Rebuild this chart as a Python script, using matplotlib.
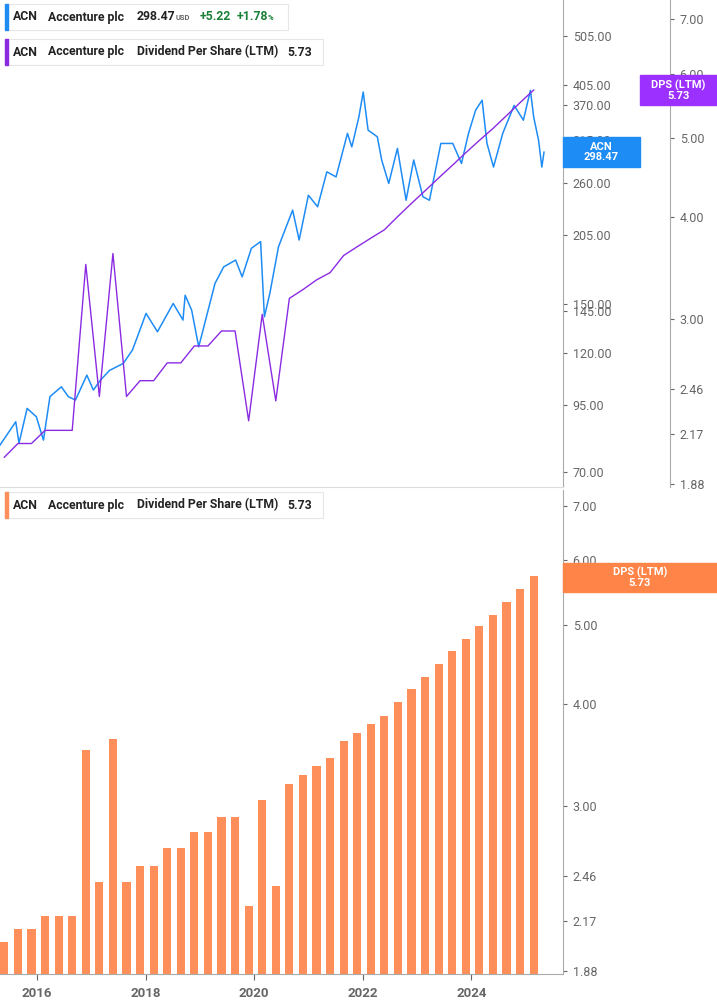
import numpy as np
import matplotlib.pyplot as plt
from matplotlib.ticker import FixedLocator, NullLocator, NullFormatter
from matplotlib.patches import Rectangle

plt.rcParams['font.family'] = 'Roboto'

# --- data ---
price_years = [2015.32, 2015.61, 2015.67, 2015.82, 2015.99, 2016.12, 2016.24, 2016.45, 2016.58, 2016.71,
               2016.92, 2017.04, 2017.17, 2017.34, 2017.59, 2017.76, 2018.01, 2018.22, 2018.51, 2018.69,
               2018.73, 2018.85, 2018.98, 2019.28, 2019.44, 2019.66, 2019.78, 2019.95, 2020.12, 2020.19,
               2020.29, 2020.45, 2020.71, 2020.83, 2021.00, 2021.17, 2021.34, 2021.51, 2021.72, 2021.80,
               2021.93, 2022.01, 2022.10, 2022.27, 2022.35, 2022.48, 2022.64, 2022.80, 2022.94, 2023.11,
               2023.23, 2023.44, 2023.66, 2023.82, 2023.95, 2024.08, 2024.20, 2024.29, 2024.41, 2024.58,
               2024.79, 2024.96, 2025.09, 2025.15, 2025.24, 2025.30, 2025.34]
price = [79.1, 87.9, 79.8, 93.4, 89.9, 80.9, 98.5, 103.0, 98.5, 97.0,
         108.6, 101.5, 106.2, 111.0, 114.5, 121.7, 143.7, 132.2, 150.3, 139.4,
         156.0, 145.8, 123.5, 164.6, 177.4, 183.0, 169.6, 193.0, 199.0, 141.5,
         157.3, 194.4, 229.5, 200.4, 245.5, 233.0, 273.0, 266.8, 325.0, 305.7,
         350.0, 392.0, 329.8, 320.0, 288.0, 259.0, 303.6, 240.0, 288.0, 243.8,
         240.0, 310.5, 310.5, 283.6, 325.0, 361.0, 377.7, 310.5, 279.0, 325.0,
         369.0, 345.0, 395.0, 350.0, 315.0, 279.0, 298.47]

dps_years = [2015.40 + 0.25 * i for i in range(40)]
dps = [2.03, 2.11, 2.11, 2.19, 2.19, 2.19, 3.50, 2.41, 3.61, 2.41,
       2.52, 2.52, 2.65, 2.65, 2.78, 2.78, 2.90, 2.90, 2.25, 3.04,
       2.38, 3.18, 3.26, 3.35, 3.42, 3.59, 3.68, 3.77, 3.86, 4.01,
       4.16, 4.31, 4.47, 4.63, 4.80, 4.97, 5.14, 5.33, 5.53, 5.73]

price_ticks = [505, 405, 370, 315, 260, 205, 150, 145, 120, 95, 70]
dps_ticks = [7.00, 6.00, 5.00, 4.00, 3.00, 2.46, 2.17, 1.88]
year_ticks = [2016, 2018, 2020, 2022, 2024]

BLUE = '#1e8cf5'
PURPLE = '#8a2be2'
ORANGE = '#ff8f5a'
GREY = '#666666'
W, H = 717, 1005
XL = (2015.32, 2025.69)

fig = plt.figure(figsize=(W / 100, H / 100), dpi=100)

def style_right(ax, ticks, lim, pos=None):
    ax.set_yscale('log')
    ax.set_ylim(*lim)
    ax.yaxis.set_major_locator(FixedLocator(ticks))
    ax.yaxis.set_minor_locator(NullLocator())
    ax.yaxis.set_minor_formatter(NullFormatter())
    ax.set_yticklabels([f'{t:.2f}' for t in ticks])
    ax.yaxis.tick_right()
    ax.yaxis.set_label_position('right')
    ax.tick_params(axis='y', colors=GREY, labelsize=9, length=3, width=0.8, pad=4,
                   left=False, labelleft=False, right=True, labelright=True)
    for s in ['top', 'left', 'bottom']:
        ax.spines[s].set_visible(False)
    ax.spines['right'].set_visible(True)
    ax.spines['right'].set_color('#aaaaaa')
    if pos is not None:
        ax.spines['right'].set_position(('outward', pos))

# top panel
ax1 = fig.add_axes([0, 1 - 487 / H, 563 / W, 487 / H])
ax1.plot(price_years, price, color=BLUE, lw=1.1, zorder=3)
ax1.set_xlim(*XL)
ax1.set_xticks([])

ax1b = ax1.twinx()
ax1b.plot(dps_years, dps, color=PURPLE, lw=1.0, zorder=2)
ax1b.set_xlim(*XL)
style_right(ax1b, dps_ticks, (1.866, 7.39), pos=77)

style_right(ax1, price_ticks, (65.4, 595))
ax1.spines['bottom'].set_visible(True)
ax1.spines['bottom'].set_color('#dddddd')

# bottom panel
ax2 = fig.add_axes([0, 1 - 974 / H, 563 / W, 484 / H])
ax2.bar(dps_years, dps, width=0.15, color=ORANGE, bottom=0.01)
ax2.set_xlim(*XL)
style_right(ax2, dps_ticks, (1.866, 7.32))
ax2.spines['bottom'].set_visible(True)
ax2.spines['bottom'].set_color('#aaaaaa')
ax2.set_xticks(year_ticks)
ax2.set_xticklabels([str(y) for y in year_ticks])
ax2.tick_params(axis='x', colors=GREY, labelsize=9.5, length=4, pad=5)
for lab in ax2.get_xticklabels():
    lab.set_fontweight('bold')

# value flags on the axes
def flag(x0, y0, w, h, color, text):
    fig.patches.append(Rectangle((x0 / W, 1 - (y0 + h) / H), w / W, h / H,
                                 transform=fig.transFigure, color=color, zorder=10))
    fig.text((x0 + w / 2) / W, 1 - (y0 + h / 2) / H, text, color='white', fontsize=8,
             fontweight='bold', ha='center', va='center', zorder=11, linespacing=1.0)

flag(563, 137, 77, 30, BLUE, 'ACN\n298.47')
flag(640, 75, 77, 30, '#9b30ff', 'DPS (LTM)\n5.73')
flag(563, 563, 154, 29, '#ff8448', 'DPS (LTM)\n5.73')

# legend boxes
def legend(y0, w, color, parts):
    fig.patches.append(Rectangle((5 / W, 1 - (y0 + 26) / H), w / W, 26 / H,
                                 transform=fig.transFigure, facecolor='white',
                                 edgecolor='#e6e6e6', lw=0.8, zorder=10))
    fig.patches.append(Rectangle((5 / W, 1 - (y0 + 26) / H), 3 / W, 26 / H,
                                 transform=fig.transFigure, color=color, zorder=11))
    for x, txt, c, fs in parts:
        fig.text(x / W, 1 - (y0 + 13) / H, txt, color=c, fontsize=fs, fontweight='bold',
                 va='center', ha='left', zorder=12)

FS = 8.8
legend(4, 283, BLUE, [(13, 'ACN', '#222222', FS), (48, 'Accenture plc', '#222222', FS),
                      (137, '298.47', '#222222', FS), (176, 'USD', GREY, 5.5),
                      (200, '+5.22', '#1a7f37', FS), (237, '+1.78', '#1a7f37', FS),
                      (268, '%', '#1a7f37', 5.5)])
legend(39, 318, PURPLE, [(13, 'ACN', '#222222', FS), (48, 'Accenture plc', '#222222', FS),
                         (137, 'Dividend Per Share (LTM)', '#222222', FS), (287, '5.73', '#222222', FS)])
legend(492, 318, ORANGE, [(13, 'ACN', '#222222', FS), (48, 'Accenture plc', '#222222', FS),
                          (137, 'Dividend Per Share (LTM)', '#222222', FS), (287, '5.73', '#222222', FS)])

fig.savefig('out.png', dpi=100)
